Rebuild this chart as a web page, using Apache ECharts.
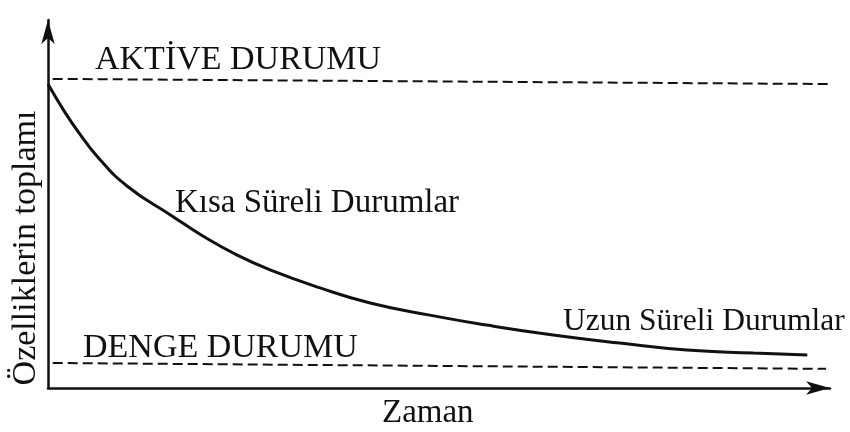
<!DOCTYPE html>
<html>
<head>
<meta charset="utf-8">
<script src="https://cdn.jsdelivr.net/npm/echarts@6/dist/echarts.min.js"></script>
<style>
  html, body { margin: 0; padding: 0; background: #fff; }
  #chart { width: 850px; height: 432px; }
</style>
</head>
<body>
<div id="chart"></div>
<script>
// Time on x (0–100), sum of properties on y (0–100), arbitrary units
const zaman = [0, 2.05, 3.71, 6.27, 10.1, 15.9, 19.8, 24.2, 28.4, 34.8, 41.2, 48.8, 56.1, 64.6, 73.1, 81.7, 90.2, 97.1];
const ozellikToplami = [82.6, 75.3, 70.1, 63.0, 54.9, 46.7, 41.3, 36.1, 32.1, 27.2, 23.1, 19.8, 17.1, 14.4, 12.2, 10.3, 9.5, 9.0];

// Reference levels (start and end points of each dashed line)
const aktiveX = [0.6, 99.7];
const aktiveY = [84.0, 82.6];
const dengeX = [0.6, 99.5];
const dengeY = [6.8, 5.2];

const labels = {
  aktive: 'AKTİVE DURUMU',
  denge: 'DENGE DURUMU',
  kisa: 'Kısa Süreli Durumlar',
  uzun: 'Uzun Süreli Durumlar',
  xName: 'Zaman',
  yName: 'Özelliklerin toplamı'
};

const serif = "'Liberation Serif', 'Times New Roman', serif";
const ink = '#111';

const pairs = (xs, ys) => xs.map((x, i) => [x, ys[i]]);

const chart = echarts.init(document.getElementById('chart'), null, { renderer: 'canvas' });

function txt(text, x, y, size) {
  return {
    type: 'text',
    x: x,
    y: y,
    silent: true,
    style: {
      text: text,
      fill: ink,
      font: 'normal ' + size + 'px ' + serif,
      textAlign: 'left',
      textVerticalAlign: 'middle'
    }
  };
}

const dashed = { color: ink, width: 2, type: [10, 5] };

chart.setOption({
  animation: false,
  backgroundColor: '#fff',
  grid: { left: 48, right: 20, top: 20, bottom: 44, containLabel: false },
  xAxis: {
    type: 'value',
    min: 0,
    max: 100,
    axisLine: {
      show: true,
      symbol: ['none', 'arrow'],
      symbolSize: [10, 24],
      lineStyle: { color: ink, width: 2.5 }
    },
    axisTick: { show: false },
    axisLabel: { show: false },
    splitLine: { show: false }
  },
  yAxis: {
    type: 'value',
    min: 0,
    max: 100,
    axisLine: {
      show: true,
      symbol: ['none', 'arrow'],
      symbolSize: [10, 24],
      lineStyle: { color: ink, width: 2.5 }
    },
    axisTick: { show: false },
    axisLabel: { show: false },
    splitLine: { show: false }
  },
  series: [
    {
      name: labels.aktive,
      type: 'line',
      data: pairs(aktiveX, aktiveY),
      symbol: 'none',
      lineStyle: dashed
    },
    {
      name: labels.denge,
      type: 'line',
      data: pairs(dengeX, dengeY),
      symbol: 'none',
      lineStyle: dashed
    },
    {
      name: labels.kisa,
      type: 'line',
      data: pairs(zaman, ozellikToplami),
      symbol: 'none',
      smooth: 0.5,
      lineStyle: { color: ink, width: 3 }
    }
  ],
  graphic: [
    txt(labels.aktive, 95, 60, 34),
    txt(labels.denge, 83, 348, 34),
    txt(labels.kisa, 175, 203, 33),
    txt(labels.uzun, 563, 322, 31.5),
    txt(labels.xName, 382, 413, 33),
    {
      type: 'text',
      x: 26,
      y: 248,
      rotation: Math.PI / 2,
      silent: true,
      style: {
        text: labels.yName,
        fill: ink,
        font: 'normal 34px ' + serif,
        textAlign: 'center',
        textVerticalAlign: 'middle'
      }
    }
  ]
});
</script>
</body>
</html>
